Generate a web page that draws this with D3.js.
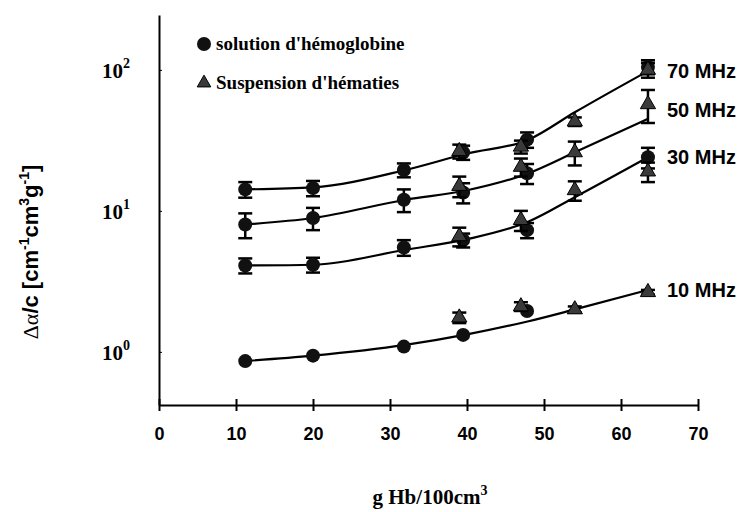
<!DOCTYPE html>
<html><head><meta charset="utf-8">
<script src="https://cdn.jsdelivr.net/npm/d3@7"></script>
<style>body{margin:0;background:#fff}</style>
</head><body>
<svg id="chart" width="744" height="512"></svg>
<script>
// ---- data ----
const frequencies = ["10 MHz", "30 MHz", "50 MHz", "70 MHz"];
const xTicks = [0, 10, 20, 30, 40, 50, 60, 70];
const yTicks = [1, 10, 100];
const yTickExp = ["0", "1", "2"];

// hemoglobin solution (circles)
const hemoX   = [11.2, 20, 31.8, 39.5, 47.8, 63.5];
const hemo10  = [0.86, 0.94, 1.09, 1.32, 1.95, null];
const hemo30  = [4.1, 4.15, 5.5, 6.2, 7.3, 24];
const hemo50  = [8.0, 8.9, 12.0, 13.5, 18.5, null];
const hemo70  = [14.2, 14.5, 19.5, 26, 32, 105];
const hemoErr10 = [0, 0, 0, 0, 0, null];
const hemoErr30 = [0.5, 0.5, 0.7, 0.7, 0.9, 4];
const hemoErr50 = [1.6, 1.6, 2.2, 2.2, 3, null];
const hemoErr70 = [1.8, 1.8, 2.2, 3, 4, 12];

// red cell suspension (triangles)
const suspX   = [39, 47, 54, 63.5];
const susp10  = [1.75, 2.1, 2.0, 2.65];
const susp30  = [6.6, 8.6, 14, 19];
const susp50  = [15, 20.5, 26, 57];
const susp70  = [26.5, 28.5, 43, 100];
const suspErr10 = [0.15, 0.15, 0.1, 0.1];
const suspErr30 = [1.0, 1.4, 2.2, 3];
const suspErr50 = [2.5, 3, 5, 15];
const suspErr70 = [3, 3, 3, 12];

// fitted curves
const fitX  = [11, 20, 32, 40, 48, 54, 63.5];
const fit10 = [0.86, 0.94, 1.12, 1.33, 1.65, 2.0, 2.75];
const fit30 = [4.1, 4.15, 5.3, 6.3, 8.4, 12.5, 24];
const fit50 = [8.0, 8.9, 12.0, 14.0, 18.5, 26, 45];
const fit70 = [14.2, 14.7, 19.5, 25.5, 32, 50, 98];

const labelAt = [2.75, 24, 52, 98]; // value where each freq label sits

// ---- drawing ----
const svg = d3.select("#chart");
const x = d3.scaleLinear().domain([0, 70]).range([159, 698]);
const y = d3.scaleLog().domain([0.42, 245]).range([405, 15]);

// axes
const xAxis = svg.append("g").attr("transform", "translate(0,405)")
  .call(d3.axisBottom(x).tickValues(xTicks).tickSize(6).tickSizeOuter(0).tickFormat(d => d));
xAxis.select(".domain").attr("stroke", "#000").attr("stroke-width", 2);
xAxis.selectAll(".tick line").attr("stroke", "#000").attr("stroke-width", 2).attr("y1", -6);
xAxis.selectAll(".tick text").attr("y", 22).attr("dy", "0.71em")
  .attr("font-family", "Liberation Sans, Arial, sans-serif").attr("font-weight", "bold")
  .attr("font-size", 18).attr("fill", "#000");

const yAxis = svg.append("g").attr("transform", "translate(159,0)")
  .call(d3.axisLeft(y).tickValues(yTicks).tickSize(-3).tickSizeOuter(0).tickFormat(""));
yAxis.select(".domain").attr("stroke", "#000").attr("stroke-width", 2);
yAxis.selectAll(".tick line").attr("stroke", "#000").attr("stroke-width", 1);

// y tick labels 10^n
yTicks.forEach((v, i) => {
  const t = svg.append("text").attr("x", 102).attr("y", y(v) + 8)
    .attr("font-family", "Liberation Serif, Times New Roman, serif")
    .attr("font-weight", "bold").attr("font-size", 21).attr("fill", "#000");
  t.append("tspan").text("10");
  t.append("tspan").attr("dy", -10).attr("font-size", 14).text(yTickExp[i]);
});

// axis titles
const xt = svg.append("text").attr("x", 430).attr("y", 504).attr("text-anchor", "middle")
  .attr("font-family", "Liberation Serif, Times New Roman, serif").attr("font-weight", "bold")
  .attr("font-size", 21).attr("fill", "#000");
xt.append("tspan").text("g Hb/100cm");
xt.append("tspan").attr("dy", -9).attr("font-size", 14).text("3");

const yt = svg.append("text").attr("transform", "translate(38,252) rotate(-90)")
  .attr("text-anchor", "middle").attr("font-family", "Liberation Sans, Arial, sans-serif")
  .attr("font-weight", "bold").attr("font-size", 22).attr("fill", "#000");
yt.append("tspan").attr("font-family", "Liberation Serif, serif").attr("font-weight", "normal").text("Δα");
yt.append("tspan").text("/c [cm");
yt.append("tspan").attr("dy", -9).attr("font-size", 14).text("-1");
yt.append("tspan").attr("dy", 9).text("cm");
yt.append("tspan").attr("dy", -9).attr("font-size", 14).text("3");
yt.append("tspan").attr("dy", 9).text("g");
yt.append("tspan").attr("dy", -9).attr("font-size", 14).text("-1");
yt.append("tspan").attr("dy", 9).text("]");

// fit curves
const line = d3.line().x(d => x(d[0])).y(d => y(d[1])).curve(d3.curveMonotoneX);
[fit10, fit30, fit50, fit70].forEach(f => {
  svg.append("path").datum(fitX.map((xv, i) => [xv, f[i]]))
    .attr("d", line).attr("fill", "none").attr("stroke", "#000").attr("stroke-width", 2.2);
});

const tri = d3.symbol().type(d3.symbolTriangle).size(100);

function errorBars(xs, ys, es) {
  xs.forEach((xv, i) => {
    if (ys[i] == null || !es[i]) return;
    const g = svg.append("g").attr("stroke", "#000").attr("stroke-width", 2.5);
    const cx = x(xv), y1 = y(ys[i] + es[i]), y0 = y(ys[i] - es[i]);
    g.append("line").attr("x1", cx).attr("x2", cx).attr("y1", y1).attr("y2", y0);
    g.append("line").attr("x1", cx - 7).attr("x2", cx + 7).attr("y1", y1).attr("y2", y1);
    g.append("line").attr("x1", cx - 7).attr("x2", cx + 7).attr("y1", y0).attr("y2", y0);
  });
}

[[hemo10, hemoErr10], [hemo30, hemoErr30], [hemo50, hemoErr50], [hemo70, hemoErr70]].forEach(([ys, es]) => {
  errorBars(hemoX, ys, es);
  hemoX.forEach((xv, i) => {
    if (ys[i] == null) return;
    svg.append("circle").attr("cx", x(xv)).attr("cy", y(ys[i])).attr("r", 7).attr("fill", "#111");
  });
});

[[susp10, suspErr10], [susp30, suspErr30], [susp50, suspErr50], [susp70, suspErr70]].forEach(([ys, es]) => {
  errorBars(suspX, ys, es);
  suspX.forEach((xv, i) => {
    svg.append("path").attr("d", tri).attr("transform", `translate(${x(xv)},${y(ys[i])})`)
      .attr("fill", "#3a3a3a").attr("stroke", "#000").attr("stroke-width", 1);
  });
});

// frequency labels
frequencies.forEach((f, i) => {
  svg.append("text").attr("x", 667).attr("y", y(labelAt[i]) + 7)
    .attr("font-family", "Liberation Sans, Arial, sans-serif").attr("font-weight", "bold")
    .attr("font-size", 20).attr("fill", "#000").text(f);
});

// legend
svg.append("circle").attr("cx", 204).attr("cy", 44).attr("r", 7).attr("fill", "#111");
svg.append("text").attr("x", 216).attr("y", 50).attr("font-family", "Liberation Serif, Times New Roman, serif")
  .attr("font-weight", "bold").attr("font-size", 19).attr("fill", "#000").text("solution d'hémoglobine");
svg.append("path").attr("d", d3.symbol().type(d3.symbolTriangle).size(80))
  .attr("transform", "translate(204,83)").attr("fill", "#3a3a3a").attr("stroke", "#000");
svg.append("text").attr("x", 216).attr("y", 89).attr("font-family", "Liberation Serif, Times New Roman, serif")
  .attr("font-weight", "bold").attr("font-size", 19).attr("fill", "#000").text("Suspension d'hématies");
</script>
</body></html>
